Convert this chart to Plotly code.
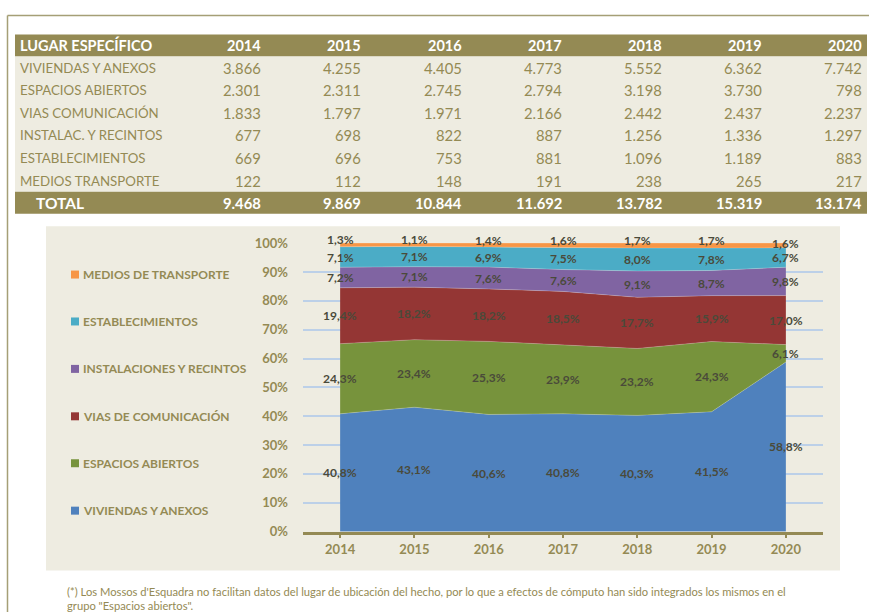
import plotly.graph_objects as go

W, H = 869, 612

years = ["2014", "2015", "2016", "2017", "2018", "2019", "2020"]
table_rows = ["VIVIENDAS Y ANEXOS", "ESPACIOS ABIERTOS", "VIAS COMUNICACIÓN",
              "INSTALAC. Y RECINTOS", "ESTABLECIMIENTOS", "MEDIOS TRANSPORTE"]
viviendas = [3866, 4255, 4405, 4773, 5552, 6362, 7742]
espacios = [2301, 2311, 2745, 2794, 3198, 3730, 798]
vias = [1833, 1797, 1971, 2166, 2442, 2437, 2237]
instalac = [677, 698, 822, 887, 1256, 1336, 1297]
establec = [669, 696, 753, 881, 1096, 1189, 883]
medios = [122, 112, 148, 191, 238, 265, 217]
totals = [9468, 9869, 10844, 11692, 13782, 15319, 13174]

series_names = ["VIVIENDAS Y ANEXOS", "ESPACIOS ABIERTOS", "VIAS DE COMUNICACIÓN",
                "INSTALACIONES Y RECINTOS", "ESTABLECIMIENTOS", "MEDIOS DE TRANSPORTE"]
series_values = [viviendas, espacios, vias, instalac, establec, medios]
series_colors = ["#4F81BD", "#77933C", "#943634", "#8064A2", "#4BACC6", "#F79646"]

footnote = ["(*) Los Mossos d'Esquadra no facilitan datos del lugar de ubicación del hecho, por lo que a efectos de cómputo han sido integrados los mismos en el",
            "grupo \"Espacios abiertos\"."]

OLIVE = "#948A54"
BEIGE = "#EEECE1"
FONT = "Lato"

# observed rendering: content drawn ~597px tall, starting ~6.5px down
TOP, HS = 6.5, 597.0


def px(x):
    return x / W


def py(y):
    return 1 - (y - TOP) / HS


def fmt_int(v):
    return f"{v:,}".replace(",", ".")


fig = go.Figure()
shapes = []
annotations = []


def rect(x0, x1, y0, y1, color, layer="below"):
    shapes.append(dict(type="rect", xref="paper", yref="paper", layer=layer,
                       x0=px(x0), x1=px(x1), y0=py(y1), y1=py(y0),
                       fillcolor=color, line=dict(width=0)))


def text(x, y, s, size, color, anchor="left", bold=False):
    annotations.append(dict(x=px(x), y=py(y), xref="paper", yref="paper",
                            xanchor=anchor, yanchor="middle", showarrow=False,
                            text=f"<b>{s}</b>" if bold else s, borderpad=0,
                            font=dict(family=FONT, size=size, color=color)))


# ---------- table (built from the arrays) ----------
TX0, TX1 = 15, 867
HEAD_Y0, HEAD_Y1 = 33, 55
ROW_H = 22.6
TOT_Y0 = HEAD_Y1 + ROW_H * len(table_rows)
TOT_Y1 = 212.5
col_right = [262, 362, 463, 563, 663, 763, 863]

rect(TX0, TX1, HEAD_Y0, HEAD_Y1, OLIVE)
rect(TX0, TX1, HEAD_Y1, TOT_Y0, BEIGE)
rect(TX0, TX1, TOT_Y0, TOT_Y1, OLIVE)

hy = (HEAD_Y0 + HEAD_Y1) / 2
text(19, hy, "LUGAR ESPECÍFICO", 14.5, "white", bold=True)
for xr, yr in zip(col_right, years):
    text(xr, hy, yr, 14.5, "white", anchor="right", bold=True)

for r, (name, vals) in enumerate(zip(table_rows, series_values)):
    cy = HEAD_Y1 + ROW_H * (r + 0.5)
    text(19, cy, name, 13.3, OLIVE)
    for xr, v in zip(col_right, vals):
        text(xr, cy, fmt_int(v), 14.8, OLIVE, anchor="right")

ty = (TOT_Y0 + TOT_Y1) / 2
text(35, ty, "TOTAL", 15.5, "white", bold=True)
for xr, v in zip(col_right, totals):
    text(xr, ty, fmt_int(v), 14.8, "white", anchor="right", bold=True)

# ---------- stacked area ----------
for name, vals, col in zip(series_names, series_values, series_colors):
    fig.add_trace(go.Scatter(
        x=years, y=vals, name=name, mode="lines", stackgroup="one", groupnorm="percent",
        line=dict(width=0.6, color="rgba(255,255,255,0.35)"), fillcolor=col,
        showlegend=False, hoverinfo="skip"))

cum = [0.0] * len(years)
for si, vals in enumerate(series_values):
    for i, y in enumerate(years):
        pct = vals[i] / totals[i] * 100
        center = cum[i] + pct / 2
        cum[i] += pct
        label = f"{pct:.1f}".replace(".", ",") + "%"
        shift = 0
        if si == len(series_values) - 1:
            shift = 5 if i < len(years) - 1 else 2
        annotations.append(dict(x=i, y=center, xref="x", yref="y", text=f"<b>{label}</b>",
                                showarrow=False, yshift=shift,
                                font=dict(family=FONT, size=12, color="#4A4A3A")))

# manual legend
leg_y = [510, 462.5, 415.5, 368, 320.5, 273.5]
for name, col, ly in zip(series_names, series_colors, leg_y):
    rect(71, 79, ly - 4, ly + 4, col, layer="above")
    text(82, ly, name, 12, OLIVE, bold=True)

# chart panel background
rect(46, 840, 225, 570, BEIGE)
# frame lines
shapes.append(dict(type="line", xref="paper", yref="paper", x0=px(7.5), x1=px(869),
                   y0=py(14), y1=py(14), line=dict(color="#A59F76", width=1.5)))
shapes.append(dict(type="line", xref="paper", yref="paper", x0=px(7.5), x1=px(7.5),
                   y0=py(14), y1=py(640), line=dict(color="#A59F76", width=1.5)))

# footnote
for k, line in enumerate(footnote):
    text(66, 591 + 14.5 * k, line, 11.2, OLIVE)

fig.update_layout(
    width=W, height=H, margin=dict(l=0, r=0, t=0, b=0),
    paper_bgcolor="white", plot_bgcolor="rgba(0,0,0,0)",
    showlegend=False, shapes=shapes, annotations=annotations,
    xaxis=dict(domain=[px(303), px(823)], type="category", range=[-0.5, 6.5],
               showline=True, linecolor=OLIVE, linewidth=2.5, ticks="outside",
               ticklen=4, tickwidth=2, tickcolor=OLIVE, showgrid=False,
               tickfont=dict(family=FONT, size=13, color=OLIVE, weight="bold")),
    yaxis=dict(domain=[py(531), py(242)], range=[0, 100], dtick=10, ticksuffix="%",
               showgrid=True, gridcolor="#BCD0E8", gridwidth=1.5, zeroline=False,
               ticklabelstandoff=14, showline=False,
               tickfont=dict(family=FONT, size=13, color=OLIVE, weight="bold")),
)

fig.write_html(
    "out.html",
    config={"responsive": False, "displayModeBar": False},
    post_script=("var gd=document.getElementById('{plot_id}');"
                 "gd.style.position='fixed';gd.style.top='0px';gd.style.left='0px';"
                 "document.body.style.margin='0';"
                 "document.documentElement.style.overflow='hidden';"),
)
